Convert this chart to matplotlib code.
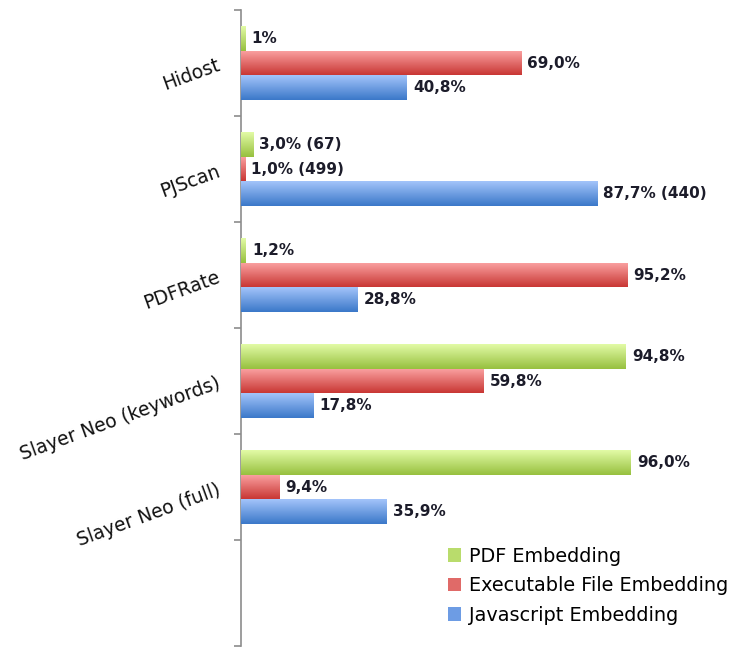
import numpy as np
import matplotlib
matplotlib.use("Agg")
import matplotlib.pyplot as plt
from matplotlib.colors import LinearSegmentedColormap
from matplotlib.patches import Patch

categories = ["Hidost", "PJScan", "PDFRate", "Slayer Neo (keywords)", "Slayer Neo (full)", ""]
series_names = ["PDF Embedding", "Executable File Embedding", "Javascript Embedding"]
pdf_vals = [1.0, 3.0, 1.2, 94.8, 96.0]
exe_vals = [69.0, 1.0, 95.2, 59.8, 9.4]
js_vals = [40.8, 87.7, 28.8, 17.8, 35.9]
pdf_labels = ["1%", "3,0% (67)", "1,2%", "94,8%", "96,0%"]
exe_labels = ["69,0%", "1,0% (499)", "95,2%", "59,8%", "9,4%"]
js_labels = ["40,8%", "87,7% (440)", "28,8%", "17,8%", "35,9%"]

grad = {
    "pdf": ("#e2fba6", "#97c03f"),
    "exe": ("#fba3a3", "#c93734"),
    "js": ("#a3c4fa", "#3b78c9"),
}
mid = {"pdf": "#b9dc6c", "exe": "#e06a68", "js": "#6d9ce4"}

fig = plt.figure(figsize=(7.33, 6.47), dpi=100)
ax = fig.add_axes([241 / 733, 1 - 646 / 647, 490 / 733, 636 / 647])

h = 0.23
ypos = np.arange(len(pdf_vals))
series = [("pdf", pdf_vals, pdf_labels, -h), ("exe", exe_vals, exe_labels, 0.0), ("js", js_vals, js_labels, h)]

grad_arr = np.linspace(0, 1, 64).reshape(-1, 1)
for key, vals, labels, off in series:
    bars = ax.barh(ypos + off, vals, height=h, color=mid[key], linewidth=0, zorder=2)
    cmap = LinearSegmentedColormap.from_list(key, [grad[key][0], grad[key][1]])
    for b, lab in zip(bars, labels):
        x0, y0 = b.get_x(), b.get_y()
        w, hh = b.get_width(), b.get_height()
        im = ax.imshow(grad_arr, cmap=cmap, extent=(x0, x0 + w, y0 + hh, y0),
                       origin="upper", aspect="auto", zorder=3, interpolation="bilinear")
        im.set_clip_path(b)
        ax.annotate(lab, xy=(x0 + w, y0 + hh / 2), xytext=(4.5, 0), textcoords="offset points",
                    ha="left", va="center", fontsize=11, fontweight="bold",
                    color="#1c1c2a", family="DejaVu Sans", zorder=4)

ax.set_xlim(0, 120.7)
ax.set_ylim(5.5, -0.5)
ax.set_aspect("auto")

for s in ["top", "right", "bottom"]:
    ax.spines[s].set_visible(False)
ax.spines["left"].set_color("#8c8c8c")
ax.spines["left"].set_linewidth(1.2)
ax.set_xticks([])
ax.set_yticks(np.arange(len(categories)))
ax.set_yticklabels(categories, rotation=20, ha="right", rotation_mode="anchor",
                   fontsize=13.5, family="DejaVu Sans", color="#111111")
ax.tick_params(axis="y", which="major", length=0, pad=16)
ax.set_yticks(np.arange(-0.5, len(categories), 1.0), minor=True)
ax.tick_params(axis="y", which="minor", length=5, width=1.2, color="#8c8c8c")

handles = [Patch(facecolor=mid[k], edgecolor="none") for k in ["pdf", "exe", "js"]]
leg = ax.legend(handles, series_names, loc="lower right", bbox_to_anchor=(1.03, 0.006),
                frameon=False, handlelength=0.7, handleheight=0.7,
                handletextpad=0.4, labelspacing=0.55, prop={"family": "DejaVu Sans", "size": 13.9})

fig.savefig("out.png", dpi=100)
